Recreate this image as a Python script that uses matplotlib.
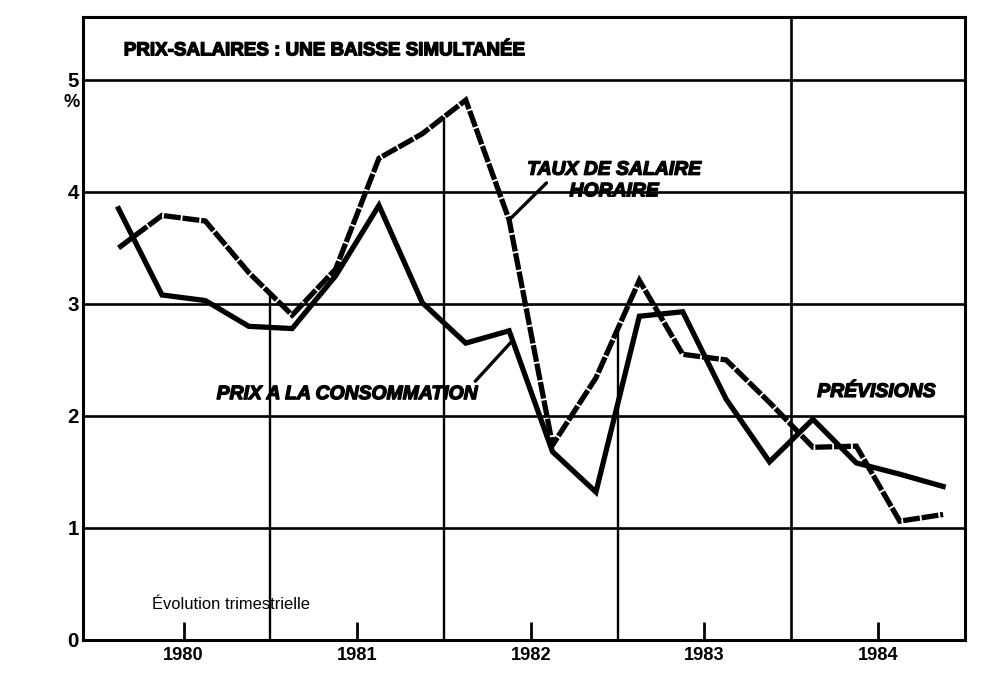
import matplotlib.pyplot as plt
import matplotlib.patheffects as pe
import numpy as np
from matplotlib import font_manager

# Evolution trimestrielle (%), 1980 T1 -> 1984 T4
years = [1980, 1981, 1982, 1983, 1984]
year_labels = ['1980', '1981', '1982', '1983', '1984']
prix = [3.85, 3.08, 3.03, 2.80, 2.78, 3.25, 3.88, 3.01, 2.65, 2.76,
        1.68, 1.32, 2.89, 2.93, 2.15, 1.59, 1.97, 1.58, 1.48, 1.37]
salaire = [3.50, 3.79, 3.74, 3.28, 2.90, 3.31, 4.30, 4.52, 4.82, 3.75,
           1.74, 2.34, 3.21, 2.55, 2.50, 2.12, 1.72, 1.73, 1.06, 1.12]
y_ticks = [0, 1, 2, 3, 4, 5]
debut_previsions = 1984

# narrow font if there is one, otherwise Arial-like Liberation Sans a bit smaller
installed = {f.name for f in font_manager.fontManager.ttflist}
if 'Liberation Sans Narrow' in installed:
    FONT, k = ['Liberation Sans Narrow', 'DejaVu Sans'], 1.0
else:
    FONT, k = ['Liberation Sans', 'DejaVu Sans'], 0.82

# the printed lettering is a black face: thicken the glyphs a little
heavy = [pe.withStroke(linewidth=1.0, foreground='black')]

# quarter midpoints on a continuous time axis
t = np.array([y + (q + 0.5) / 4 for y in years for q in range(4)])

fig = plt.figure(figsize=(9.82, 6.75), dpi=100)
ax = fig.add_axes([0.0845, 0.052, 0.898, 0.9225])
ax.set_xlim(1979.92, 1985.0)
ax.set_ylim(0, 5.56)

# frame and horizontal grid
for s in ax.spines.values():
    s.set_linewidth(2.2)
for v in y_ticks[1:]:
    ax.axhline(v, color='black', lw=1.9, zorder=1)

# year separators: drawn up to the wage curve, the forecast one full height
for y in years[1:-1]:
    ax.vlines(y, 0, np.interp(y, t, salaire), color='black', lw=1.7, zorder=1)
ax.axvline(debut_previsions, color='black', lw=1.9, zorder=1)

# series
ax.plot(t, prix, color='black', lw=3.8, solid_joinstyle='miter', zorder=3)
ax.plot(t, salaire, color='black', lw=3.8, dashes=(3.2, 0.35),
        dash_joinstyle='miter', zorder=3)

# axes ticks
ax.set_xticks([y + 0.5 for y in years])
ax.set_xticklabels(year_labels, fontfamily=FONT, fontweight='bold',
                   fontsize=16 * k)
ax.tick_params(axis='x', direction='in', length=13, width=2, pad=5)
ax.set_yticks(y_ticks)
ax.set_yticklabels([str(v) for v in y_ticks], fontfamily=FONT,
                   fontweight='bold', fontsize=18 * k)
ax.tick_params(axis='y', length=0, pad=3)
ax.text(-0.004, 4.80, '%', transform=ax.get_yaxis_transform(), ha='right',
        va='center', fontfamily=FONT, fontweight='bold', fontsize=16 * k)

# title inside the top band
ax.text(1980.155, 5.22, 'PRIX-SALAIRES : UNE BAISSE SIMULTANÉE',
        fontfamily=FONT, fontweight='heavy', fontsize=16.5 * k, va='baseline',
        path_effects=heavy)

# series labels and pointers
lab = dict(fontfamily=FONT, fontweight='bold', style='italic',
           fontsize=17 * k, path_effects=heavy)
ax.text(1982.98, 4.27, 'TAUX DE SALAIRE\nHORAIRE', ha='center', va='top',
        multialignment='center', linespacing=1.35, **lab)
ax.annotate('', xy=(t[9], salaire[9]), xytext=(1982.59, 4.08),
            arrowprops=dict(arrowstyle='-', lw=2.4, color='black',
                            shrinkA=0, shrinkB=0))
ax.text(1980.69, 2.15, 'PRIX A LA CONSOMMATION', ha='left', va='baseline',
        **lab)
px = t[9] + 0.02
ax.annotate('', xy=(px, np.interp(px, t, prix)), xytext=(1982.18, 2.31),
            arrowprops=dict(arrowstyle='-', lw=2.4, color='black',
                            shrinkA=0, shrinkB=0))
ax.text(1984.15, 2.17, 'PRÉVISIONS', ha='left', va='baseline', **lab)

ax.text(1980.32, 0.28, 'Évolution trimestrielle', fontfamily=FONT,
        fontsize=14.5 * k, va='baseline')

fig.savefig('out.png', dpi=100)
